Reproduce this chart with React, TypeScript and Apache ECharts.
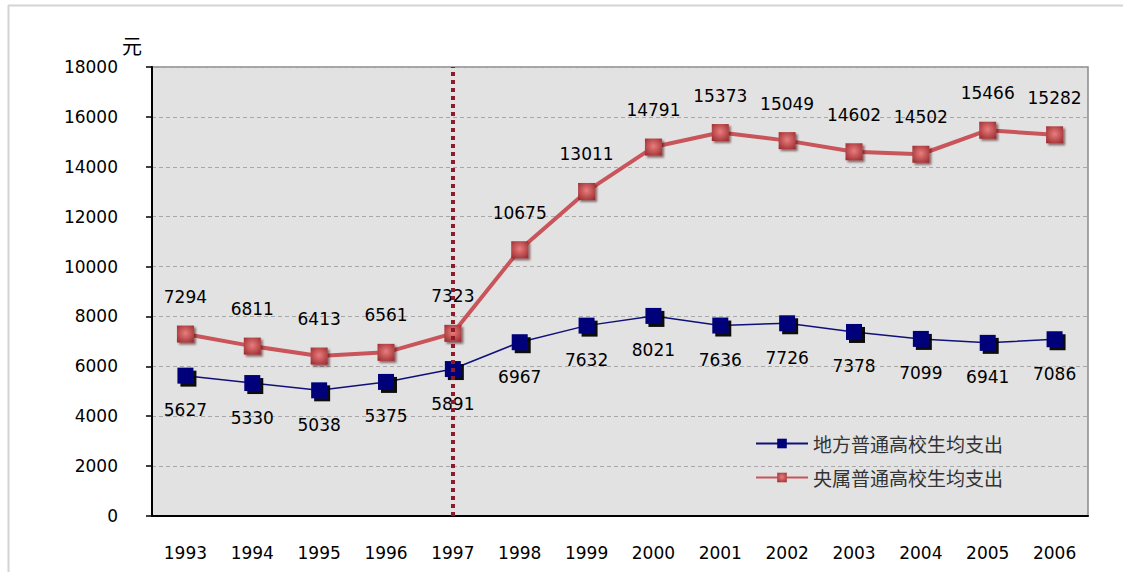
import React, { useEffect, useRef } from "react";
import * as echarts from "echarts";

const years = ["1993", "1994", "1995", "1996", "1997", "1998", "1999", "2000", "2001", "2002", "2003", "2004", "2005", "2006"];
const localSpend = [5627, 5330, 5038, 5375, 5891, 6967, 7632, 8021, 7636, 7726, 7378, 7099, 6941, 7086];
const centralSpend = [7294, 6811, 6413, 6561, 7323, 10675, 13011, 14791, 15373, 15049, 14602, 14502, 15466, 15282];
const localName = "地方普通高校生均支出";
const centralName = "央属普通高校生均支出";
const yTicks = { min: 0, max: 18000, interval: 2000 };
const markYear = "1997";

export default function App() {
  const ref = useRef<HTMLDivElement>(null);
  useEffect(() => {
    if (!ref.current) return;
    const chart = echarts.init(ref.current, null, { renderer: "svg" });
    const font = "'DejaVu Sans', sans-serif";
    chart.setOption({
      animation: false,
      backgroundColor: "#ffffff",
      graphic: [
        { type: "line", shape: { x1: 8, y1: 5.5, x2: 1123, y2: 5.5 }, style: { stroke: "#d4d4d4", lineWidth: 2 } },
        { type: "line", shape: { x1: 8.5, y1: 5, x2: 8.5, y2: 572 }, style: { stroke: "#d4d4d4", lineWidth: 2 } },
        { type: "text", x: 122, y: 35, style: { text: "元", font: "20px 'Noto Sans CJK SC'", fill: "#000" } },
      ],
      grid: {
        left: 152,
        top: 67,
        right: 35,
        bottom: 56,
        show: true,
        backgroundColor: "#e2e2e2",
        borderColor: "#8a8a8a",
        borderWidth: 1.5,
      },
      legend: {
        orient: "vertical",
        left: 750,
        top: 429,
        itemWidth: 52,
        itemHeight: 12,
        itemGap: 15,
        textStyle: { fontSize: 19, color: "#333", fontFamily: "'Noto Sans CJK SC'" },
        data: [localName, centralName],
      },
      xAxis: {
        type: "category",
        data: years,
        boundaryGap: true,
        axisLine: { lineStyle: { color: "#000", width: 2 } },
        axisTick: { inside: true, length: 6, lineStyle: { color: "#000", width: 1.5 } },
        axisLabel: { margin: 28, fontSize: 17, color: "#000", fontFamily: font },
        splitLine: { show: false },
      },
      yAxis: {
        type: "value",
        min: yTicks.min,
        max: yTicks.max,
        interval: yTicks.interval,
        axisLine: { show: true, lineStyle: { color: "#000", width: 2 } },
        axisTick: { show: true, length: 6, lineStyle: { color: "#000", width: 1.5 } },
        axisLabel: {
          margin: 34,
          fontSize: 17,
          color: "#000",
          fontFamily: font,
          formatter: (v: number) => String(v),
        },
        splitLine: { lineStyle: { color: "#a8a8a8", type: [4, 3], width: 1 } },
      },
      series: [
        {
          name: localName,
          type: "line",
          data: localSpend,
          z: 4,
          symbol: "rect",
          symbolSize: 16,
          lineStyle: { color: "#10107a", width: 1.5 },
          itemStyle: {
            color: "#00007a",
            shadowColor: "rgba(0,0,0,0.95)",
            shadowOffsetX: 3,
            shadowOffsetY: 3,
            shadowBlur: 1,
          },
          label: {
            show: true,
            position: "bottom",
            distance: 18,
            fontSize: 17,
            color: "#000",
            fontFamily: font,
          },
        },
        {
          name: centralName,
          type: "line",
          data: centralSpend,
          z: 3,
          symbol: "rect",
          symbolSize: 17,
          lineStyle: { color: "#c9545a", width: 4 },
          itemStyle: {
            color: {
              type: "radial",
              x: 0.5,
              y: 0.45,
              r: 0.7,
              colorStops: [
                { offset: 0, color: "#e97d7d" },
                { offset: 1, color: "#9a2a2e" },
              ],
            },
            shadowColor: "rgba(60,0,0,0.55)",
            shadowOffsetX: 2,
            shadowOffsetY: 2,
            shadowBlur: 2,
          },
          label: {
            show: true,
            position: "top",
            distance: 20,
            fontSize: 17,
            color: "#000",
            fontFamily: font,
          },
          markLine: {
            silent: true,
            symbol: "none",
            label: { show: false },
            lineStyle: { color: "#8e1a2a", type: [4, 4], width: 4 },
            data: [{ xAxis: markYear }],
          },
        },
      ],
    });
    return () => chart.dispose();
  }, []);
  return <div ref={ref} style={{ position: "fixed", left: 0, top: 0, width: 1123, height: 572 }} />;
}
